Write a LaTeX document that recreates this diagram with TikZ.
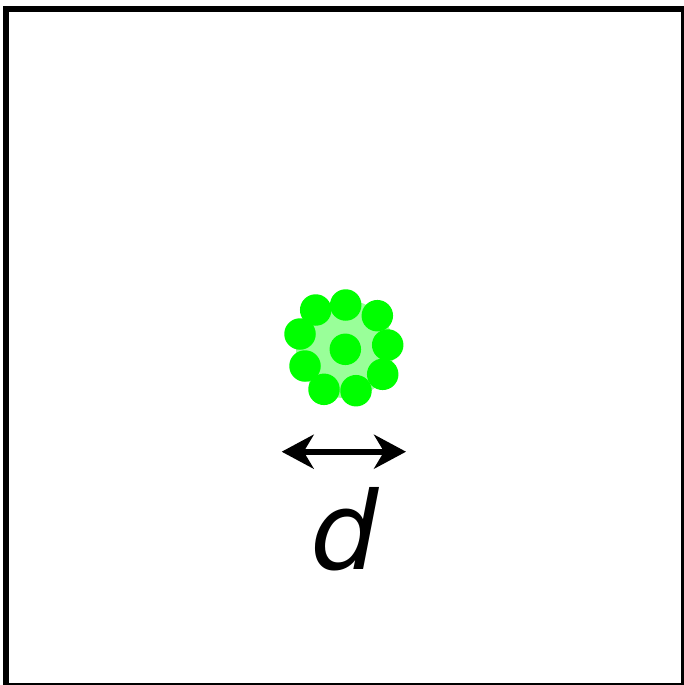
\documentclass[tikz,border=0pt]{standalone}
\usepackage{fontspec}
\setmainfont{DejaVu Sans}
\usetikzlibrary{arrows.meta,positioning}
\definecolor{BeadGreen}{HTML}{00FF00}
\definecolor{CoreGreen}{HTML}{99FF99}

\begin{document}
\begin{tikzpicture}[
        x=1pt,y=-1pt,
        frame/.style={draw=black,line width=6pt},
        core/.style={circle,fill=CoreGreen,minimum size=98pt,inner sep=0pt},
        bead/.style={circle,fill=BeadGreen,minimum size=31.5pt,inner sep=0pt},
        arr/.style={{Stealth[length=32pt,width=34pt,inset=10pt]}-{Stealth[length=32pt,width=34pt,inset=10pt]},line width=6pt,black}
      ]
        \useasboundingbox (0,0) rectangle (684,685);
        \draw[frame] (6,9.5) rectangle (684,686);
        \node[core] (c) at (345,349) {};
        \foreach \n/\px/\py in {b1/345.7/305,b2/315.7/310,b3/377.3/315.7,b4/300/334,b5/387.7/345,
                                b6/305/366,b7/382.7/374.3,b8/324/389.3,b9/356/390.7,b0/345.3/349.3}
          \node[bead] (\n) at (\px,\py) {};
        \coordinate (dl) at (281.7,451.7);
        \coordinate (dr) at (406,451.7);
        \draw[arr] (dl)--(dr);
        \node[anchor=base,inner sep=0pt,font=\fontsize{108}{108}\selectfont\itshape] (d) at (345,569) {d};
      \end{tikzpicture}
\end{document}
